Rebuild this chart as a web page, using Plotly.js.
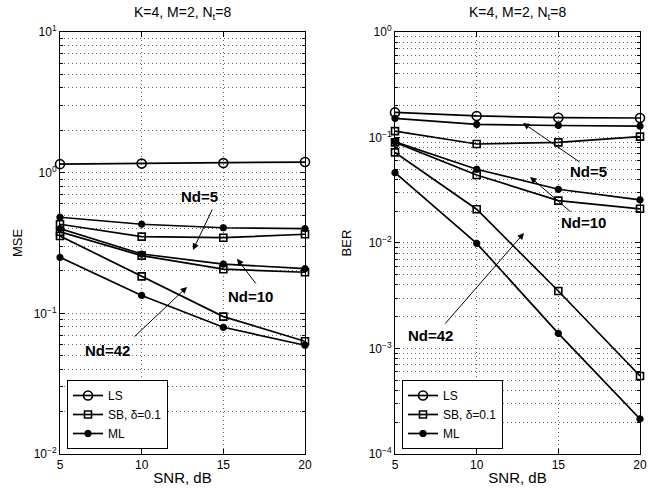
<!DOCTYPE html>
<html>
<head>
<meta charset="utf-8">
<script src="https://cdn.plot.ly/plotly-3.0.1.min.js"></script>
<style>html,body{margin:0;padding:0;background:#fff;}#chart{width:662px;height:493px;}</style>
</head>
<body>
<div id="chart"></div>
<script>
// ---- data ----
const snr = [5, 10, 15, 20];

// MSE (left)
const mseLS     = [1.15, 1.16, 1.17, 1.19];
const mseSB_5   = [0.43, 0.351, 0.345, 0.365];
const mseML_5   = [0.482, 0.43, 0.406, 0.40];
const mseSB_10  = [0.38, 0.257, 0.206, 0.196];
const mseML_10  = [0.40, 0.264, 0.224, 0.208];
const mseSB_42  = [0.355, 0.183, 0.0948, 0.0633];
const mseML_42  = [0.25, 0.134, 0.0796, 0.0593];

// BER (right)
const berLS     = [0.173, 0.16, 0.154, 0.153];
const berSB_5   = [0.115, 0.0868, 0.09, 0.102];
const berML_5   = [0.152, 0.133, 0.130, 0.128];
const berSB_10  = [0.090, 0.0441, 0.0252, 0.0211];
const berML_10  = [0.091, 0.050, 0.0323, 0.0256];
const berSB_42  = [0.0723, 0.0209, 0.00351, 0.000549];
const berML_42  = [0.0464, 0.00993, 0.00139, 0.000215];

const xTickVals = [5, 10, 15, 20];
const mseTickVals = [0.01, 0.1, 1, 10];
const mseTickText = ['10<sup>−2</sup>', '10<sup>−1</sup>', '10<sup>0</sup>', '10<sup>1</sup>'];
const berTickVals = [0.0001, 0.001, 0.01, 0.1, 1];
const berTickText = ['10<sup>−4</sup>', '10<sup>−3</sup>', '10<sup>−2</sup>', '10<sup>−1</sup>', '10<sup>0</sup>'];
const titleText = 'K=4, M=2, N<sub>t</sub>=8';

// ---- styles ----
const FONT = 'Liberation Sans, Arial, Helvetica, sans-serif';
const lineStyle = {color: '#000', width: 1.7};
const mk = {
  LS: {symbol: 'circle-open', size: 9, color: '#000', line: {color: '#000', width: 1.6}},
  SB: {symbol: 'square-open', size: 7, color: '#000', line: {color: '#000', width: 1.6}},
  ML: {symbol: 'asterisk-open', size: 6, color: '#000', line: {color: '#000', width: 2.4}}
};

function tr(y, kind, name, xa, ya, leg, show) {
  return {x: snr, y: y, type: 'scatter', mode: 'lines+markers', name: name,
          xaxis: xa, yaxis: ya, legend: leg, showlegend: show,
          line: lineStyle, marker: mk[kind], cliponaxis: false};
}

const data = [
  tr(mseLS, 'LS', 'LS', 'x', 'y', 'legend', true),
  tr(mseSB_5, 'SB', 'SB, δ=0.1', 'x', 'y', 'legend', true),
  tr(mseML_5, 'ML', 'ML', 'x', 'y', 'legend', true),
  tr(mseSB_10, 'SB', 'SB', 'x', 'y', 'legend', false),
  tr(mseML_10, 'ML', 'ML', 'x', 'y', 'legend', false),
  tr(mseSB_42, 'SB', 'SB', 'x', 'y', 'legend', false),
  tr(mseML_42, 'ML', 'ML', 'x', 'y', 'legend', false),
  tr(berLS, 'LS', 'LS', 'x2', 'y2', 'legend2', true),
  tr(berSB_5, 'SB', 'SB, δ=0.1', 'x2', 'y2', 'legend2', true),
  tr(berML_5, 'ML', 'ML', 'x2', 'y2', 'legend2', true),
  tr(berSB_10, 'SB', 'SB', 'x2', 'y2', 'legend2', false),
  tr(berML_10, 'ML', 'ML', 'x2', 'y2', 'legend2', false),
  tr(berSB_42, 'SB', 'SB', 'x2', 'y2', 'legend2', false),
  tr(berML_42, 'ML', 'ML', 'x2', 'y2', 'legend2', false)
];

const gridCol = '#666';
const DOT = '1px,3px';
function xaxis(domain, anchor) {
  return {domain: domain, anchor: anchor, range: [5, 20], tickvals: xTickVals,
          ticks: 'inside', ticklen: 5, tickcolor: '#000', mirror: 'ticks',
          showline: true, linecolor: '#000', linewidth: 1,
          showgrid: true, gridcolor: gridCol, griddash: DOT, gridwidth: 1,
          zeroline: false, tickfont: {family: FONT, size: 12, color: '#000'},
          title: {text: 'SNR, dB', font: {family: FONT, size: 15, color: '#000'}, standoff: 1},
          automargin: false};
}
function yaxis(domain, anchor, range, tv, tt, label, so) {
  return {domain: domain, anchor: anchor, type: 'log', range: range,
          tickvals: tv, ticktext: tt,
          ticks: 'inside', ticklen: 5, tickcolor: '#000', mirror: 'ticks',
          showline: true, linecolor: '#000', linewidth: 1,
          showgrid: true, gridcolor: gridCol, griddash: DOT, gridwidth: 1,
          minor: {dtick: 'D1', ticks: 'inside', ticklen: 3, tickcolor: '#000',
                  showgrid: true, gridcolor: gridCol, griddash: DOT, gridwidth: 1},
          zeroline: false, tickfont: {family: FONT, size: 12, color: '#000'},
          title: {text: label, font: {family: FONT, size: 13, color: '#000'}, standoff: so},
          automargin: false};
}

const yDom = [0.0791, 0.9351];
const L = Math.log10;

function arrow(xr, yr, x, y, ax, ay) {
  return {xref: xr, yref: yr, axref: xr, ayref: yr, x: x, y: L(y), ax: ax, ay: L(ay),
          text: '', showarrow: true, arrowhead: 2, arrowsize: 1.3, arrowwidth: 1,
          arrowcolor: '#000', standoff: 0, startstandoff: 0};
}
function label(xr, yr, x, y, t) {
  return {xref: xr, yref: yr, x: x, y: L(y), text: '<b>' + t + '</b>', showarrow: false,
          font: {family: FONT, size: 15, color: '#000'}, xanchor: 'center', yanchor: 'middle'};
}
function title(xr) {
  return {xref: xr + ' domain', yref: 'paper', x: 0.5, y: 1 - 13/493, text: titleText,
          showarrow: false, xanchor: 'center', yanchor: 'middle',
          font: {family: FONT, size: 14, color: '#000'}};
}

const legendStyle = {bgcolor: '#fff', bordercolor: '#000', borderwidth: 1,
  font: {family: FONT, size: 12, color: '#000'}, xanchor: 'left', yanchor: 'bottom',
  tracegroupgap: 0, itemwidth: 30};

const layout = {
  width: 662, height: 493,
  margin: {l: 0, r: 0, t: 0, b: 0},
  paper_bgcolor: '#fff', plot_bgcolor: '#fff',
  font: {family: FONT, color: '#000'},
  xaxis: xaxis([60/662, 305/662], 'y'),
  yaxis: yaxis(yDom, 'x', [-2, 1], mseTickVals, mseTickText, 'MSE', 8),
  xaxis2: xaxis([395/662, 640/662], 'y2'),
  yaxis2: yaxis(yDom, 'x2', [-4, 0], berTickVals, berTickText, 'BER', 14),
  legend: Object.assign({x: 67/662, y: 1 - 449/493}, legendStyle),
  legend2: Object.assign({x: 402/662, y: 1 - 449/493}, legendStyle),
  annotations: [
    title('x'), title('x2'),
    arrow('x', 'y', 13.14, 0.282, 14.37, 0.561),
    label('x', 'y', 13.57, 0.672, 'Nd=5'),
    arrow('x', 'y', 15.84, 0.244, 17.06, 0.159),
    label('x', 'y', 16.69, 0.131, 'Nd=10'),
    arrow('x', 'y', 12.78, 0.154, 9.47, 0.0668),
    label('x', 'y', 7.88, 0.054, 'Nd=42'),
    arrow('x2', 'y2', 12.84, 0.137, 16.39, 0.0573),
    label('x2', 'y2', 16.82, 0.0471, 'Nd=5'),
    arrow('x2', 'y2', 13.27, 0.0422, 15.84, 0.0192),
    label('x2', 'y2', 16.57, 0.0158, 'Nd=10'),
    arrow('x2', 'y2', 12.9, 0.01244, 8.0, 0.00167),
    label('x2', 'y2', 7.2, 0.00132, 'Nd=42')
  ]
};

Plotly.newPlot('chart', data, layout, {staticPlot: true, displayModeBar: false});
</script>
</body>
</html>
